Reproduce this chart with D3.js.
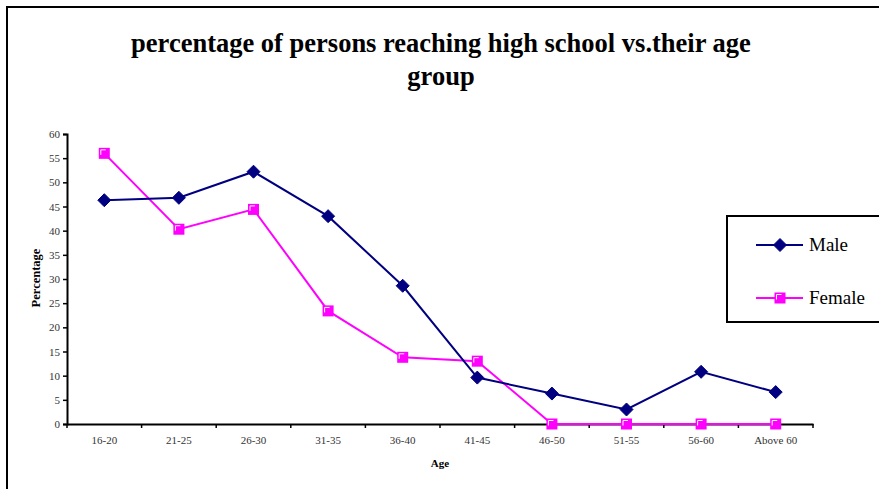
<!DOCTYPE html>
<html>
<head>
<meta charset="utf-8">
<script src="https://cdn.jsdelivr.net/npm/d3@7"></script>
<style>
  html, body { margin: 0; padding: 0; background: #fff; }
  svg { display: block; }
</style>
</head>
<body>
<svg id="chart" width="879" height="489"></svg>
<script>
// Age groups and share of persons reaching high school (%)
const ageGroups = ["16-20", "21-25", "26-30", "31-35", "36-40", "41-45", "46-50", "51-55", "56-60", "Above 60"];
const maleValues = [46.3, 46.8, 52.2, 43.0, 28.6, 9.6, 6.3, 3.0, 10.8, 6.6];
const femaleValues = [56.0, 40.3, 44.4, 23.4, 13.8, 13.0, 0, 0, 0, 0];
const yTicks = [0, 5, 10, 15, 20, 25, 30, 35, 40, 45, 50, 55, 60];
const seriesNames = ["Male", "Female"];

const svg = d3.select("#chart");
const serif = "'Liberation Serif', 'Times New Roman', serif";

// outer frame
svg.append("rect")
  .attr("x", 7).attr("y", 7).attr("width", 900).attr("height", 520)
  .attr("fill", "none").attr("stroke", "#000").attr("stroke-width", 2);

// title
const title = svg.append("text")
  .attr("text-anchor", "middle")
  .attr("font-family", serif).attr("font-weight", "bold").attr("font-size", 26.5)
  .attr("fill", "#000");
title.append("tspan").attr("x", 441).attr("y", 52).text("percentage of persons reaching high school vs.their age");
title.append("tspan").attr("x", 441).attr("y", 85).text("group");

const plot = { left: 67, right: 813, top: 134, bottom: 424 };

const x = d3.scaleBand().domain(ageGroups).range([plot.left, plot.right]);
const y = d3.scaleLinear().domain([0, 60]).range([plot.bottom, plot.top]);

// y axis
const yAxis = svg.append("g")
  .attr("transform", `translate(${plot.left},0)`)
  .call(d3.axisLeft(y).tickValues(yTicks).tickSize(4).tickPadding(3));
yAxis.select(".domain").attr("stroke", "#000").attr("stroke-width", 2);
yAxis.selectAll(".tick line").attr("stroke", "#000").attr("stroke-width", 1.5);
yAxis.selectAll(".tick text")
  .attr("font-family", serif).attr("font-size", 11).attr("fill", "#333");

// x axis: ticks sit on the category boundaries
const xAxis = svg.append("g")
  .attr("transform", `translate(0,${plot.bottom})`)
  .call(d3.axisBottom(x).tickSize(0).tickPadding(12));
xAxis.select(".domain").attr("stroke", "#000").attr("stroke-width", 2);
xAxis.selectAll(".tick text")
  .attr("font-family", serif).attr("font-size", 11).attr("fill", "#333");
xAxis.selectAll(".boundary")
  .data(ageGroups.slice(1).concat(["end"]))
  .enter().append("line")
  .attr("class", "boundary")
  .attr("x1", (d, i) => x(ageGroups[0]) + x.bandwidth() * (i + 1))
  .attr("x2", (d, i) => x(ageGroups[0]) + x.bandwidth() * (i + 1))
  .attr("y1", 0).attr("y2", 4)
  .attr("stroke", "#000").attr("stroke-width", 1.5);
xAxis.append("line")
  .attr("x1", plot.left).attr("x2", plot.left).attr("y1", 0).attr("y2", 4)
  .attr("stroke", "#000").attr("stroke-width", 1.5);

// axis titles
svg.append("text")
  .attr("transform", `translate(40,${(plot.top + plot.bottom) / 2 - 1}) rotate(-90)`)
  .attr("text-anchor", "middle")
  .attr("font-family", serif).attr("font-weight", "bold").attr("font-size", 12.5)
  .attr("fill", "#000").text("Percentage");
svg.append("text")
  .attr("x", 440).attr("y", 467)
  .attr("text-anchor", "middle")
  .attr("font-family", serif).attr("font-weight", "bold").attr("font-size", 11)
  .attr("fill", "#000").text("Age");

const cx = d => x(d) + x.bandwidth() / 2;
const line = d3.line().x(d => cx(d.age)).y(d => y(d.value));

const maleData = ageGroups.map((a, i) => ({ age: a, value: maleValues[i] }));
const femaleData = ageGroups.map((a, i) => ({ age: a, value: femaleValues[i] }));

const navy = "#000080";
const magenta = "#FF00FF";

// marker drawing helpers
function diamond(g, px, py) {
  g.append("path")
    .attr("d", `M${px},${py - 6.5}L${px + 6.5},${py}L${px},${py + 6.5}L${px - 6.5},${py}Z`)
    .attr("fill", navy).attr("stroke", navy).attr("stroke-width", 1);
}
function square(g, px, py) {
  g.append("rect")
    .attr("x", px - 5.5).attr("y", py - 5.5).attr("width", 11).attr("height", 11)
    .attr("fill", magenta);
  g.append("path")
    .attr("d", `M${px - 3.5},${py + 1.5}V${py - 3.5}H${px + 1.5}`)
    .attr("fill", "none").attr("stroke", "#fff").attr("stroke-width", 1);
}

// female series
svg.append("path").datum(femaleData)
  .attr("d", line).attr("fill", "none").attr("stroke", magenta).attr("stroke-width", 2);
const fg = svg.append("g");
femaleData.forEach(d => square(fg, cx(d.age), y(d.value)));

// male series
svg.append("path").datum(maleData)
  .attr("d", line).attr("fill", "none").attr("stroke", navy).attr("stroke-width", 2);
const mg = svg.append("g");
maleData.forEach(d => diamond(mg, cx(d.age), y(d.value)));

// legend
const legend = svg.append("g");
legend.append("rect")
  .attr("x", 727).attr("y", 216).attr("width", 200).attr("height", 106)
  .attr("fill", "#fff").attr("stroke", "#000").attr("stroke-width", 2);
const legendY = [245, 298];
seriesNames.forEach((name, i) => {
  const ly = legendY[i];
  legend.append("line")
    .attr("x1", 756).attr("x2", 803).attr("y1", ly).attr("y2", ly)
    .attr("stroke", i === 0 ? navy : magenta).attr("stroke-width", 2);
  if (i === 0) diamond(legend, 780, ly); else square(legend, 780, ly);
  legend.append("text")
    .attr("x", 809).attr("y", ly + 6)
    .attr("font-family", serif).attr("font-size", 19).attr("fill", "#000")
    .text(name);
});
</script>
</body>
</html>
